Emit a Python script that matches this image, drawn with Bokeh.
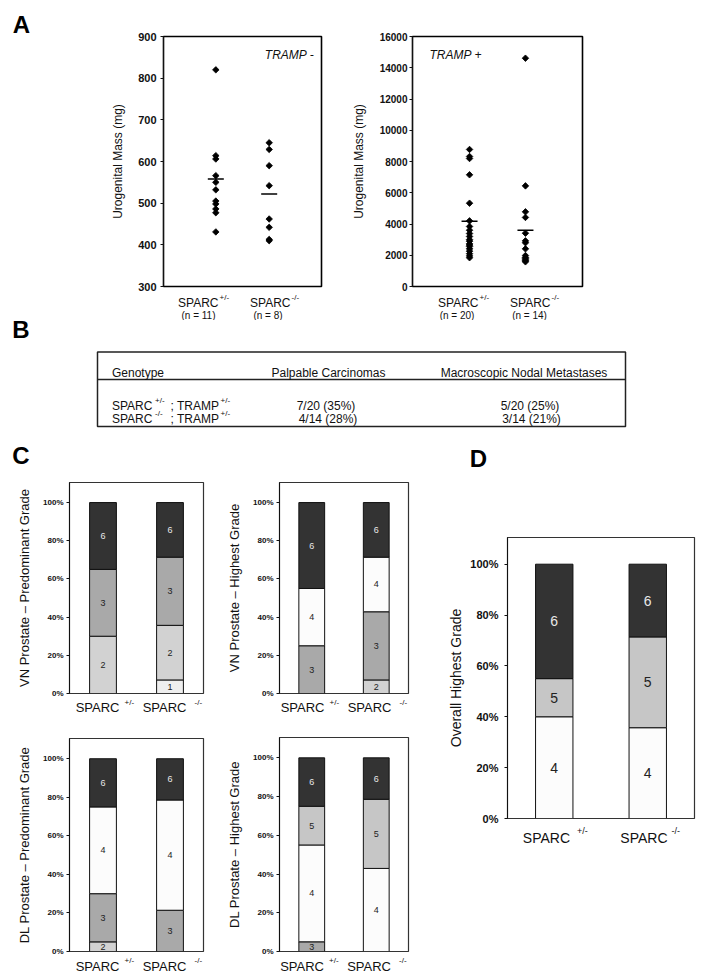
import numpy as np
from bokeh.plotting import figure
from bokeh.models import FactorRange, Range1d, Label, FixedTicker, NumeralTickFormatter, ColumnDataSource
from bokeh.layouts import row, column
from bokeh.core.properties import value
from bokeh.embed import file_html
from bokeh.resources import INLINE

FONT = "Liberation Sans"
INK = "#111111"

# ---------------- Panel A data (urogenital mass, mg) ----------------
GENOTYPES = ["SPARC+/-", "SPARC-/-"]
GENO_SUP = ["+/-", "-/-"]
TRAMP_NEG_HET = [820, 614, 606, 566, 550, 532, 505, 498, 486, 477, 431]
TRAMP_NEG_KO = [645, 629, 590, 542, 462, 442, 413, 410]
TRAMP_NEG_MEAN = [558, 522]
TRAMP_NEG_N = ["(n = 11)", "(n = 8)"]
TRAMP_NEG_TICKS = [300, 400, 500, 600, 700, 800, 900]

TRAMP_POS_HET = [8770, 8320, 8190, 7150, 5330, 4200, 3840, 3600, 3390, 3200, 3000,
                 2900, 2730, 2650, 2560, 2410, 2260, 2100, 1960, 1840]
TRAMP_POS_KO = [14610, 6440, 4780, 4420, 3410, 2920, 2800, 2410, 1980, 1860, 1800,
                1710, 1650, 1580]
TRAMP_POS_MEAN = [4180, 3600]
TRAMP_POS_N = ["(n = 20)", "(n = 14)"]
TRAMP_POS_TICKS = [0, 2000, 4000, 6000, 8000, 10000, 12000, 14000, 16000]

# ---------------- Panel B table ----------------
TABLE_HEADERS = ["Genotype", "Palpable Carcinomas", "Macroscopic Nodal Metastases"]
TABLE_SPARC_SUP = ["+/-", "-/-"]
TABLE_TRAMP_SUP = ["+/-", "+/-"]
TABLE_PALPABLE = ["7/20 (35%)", "4/14 (28%)"]
TABLE_NODAL = ["5/20 (25%)", "3/14 (21%)"]

# ---------------- Panels C / D (grade distributions, %) ----------------
BAR_GROUPS = ["+/-", "-/-"]
VN_PRED_GRADES = [[2, 3, 6], [1, 2, 3, 6]]
VN_PRED_PCT = [[30, 35, 35], [7.1, 28.6, 35.7, 28.6]]
VN_HIGH_GRADES = [[3, 4, 6], [2, 3, 4, 6]]
VN_HIGH_PCT = [[25, 30, 45], [7.1, 35.7, 28.6, 28.6]]
DL_PRED_GRADES = [[2, 3, 4, 6], [3, 4, 6]]
DL_PRED_PCT = [[5, 25, 45, 25], [21.4, 57.2, 21.4]]
DL_HIGH_GRADES = [[3, 4, 5, 6], [4, 5, 6]]
DL_HIGH_PCT = [[5, 50, 20, 25], [42.9, 35.7, 21.4]]
ALL_HIGH_GRADES = [[4, 5, 6], [4, 5, 6]]
ALL_HIGH_PCT = [[40, 15, 45], [35.7, 35.7, 28.6]]
PCT_TICKS = [0, 0.2, 0.4, 0.6, 0.8, 1.0]

GRADE_FILL = {1: "#efefef", 2: "#d2d2d2", 3: "#a9a9a9", 4: "#fcfcfc", 5: "#c6c6c6", 6: "#333333"}
GRADE_TEXT = {1: "#222222", 2: "#222222", 3: "#222222", 4: "#222222", 5: "#222222", 6: "#e8e8e8"}


def base_fig(x_range, y_range, w, h, bl, br, bt, bb):
    p = figure(width=w, height=h, x_range=x_range, y_range=y_range,
               x_axis_location=None, y_axis_location="left",
               min_border_left=bl, min_border_right=br, min_border_top=bt, min_border_bottom=bb,
               toolbar_location=None, output_backend="svg", title=None, frame_align=False)
    p.grid.visible = False
    p.background_fill_color = "white"
    p.border_fill_color = "white"
    return p


def canvas(x0, x1, y0, y1, overlap=0):
    """Transparent drawing area addressed in page pixels (y grows downward).
    overlap pulls it up over the (empty) bottom strip of the item above it."""
    p = figure(width=int(x1 - x0), height=int(y1 - y0),
               x_range=Range1d(x0, x1), y_range=Range1d(y1, y0),
               x_axis_location=None, y_axis_location=None, min_border=0,
               toolbar_location=None, output_backend="svg", title=None,
               outline_line_color=None, frame_align=False)
    p.grid.visible = False
    p.background_fill_alpha = 0
    p.border_fill_alpha = 0
    if overlap:
        p.margin = (-overlap, 0, 0, 0)
    return p


def letter(p, x, y, t):
    p.text(x=[x], y=[y], text=[t], text_align="center", text_baseline="middle",
           text_font=value(FONT), text_font_size="24px", text_font_style="bold", text_color="black")


def txt(p, xs, ys, texts, align, size, style="normal"):
    p.text(x=xs, y=ys, text=texts, text_align=align, text_baseline="alphabetic",
           text_font=value(FONT), text_font_size=size, text_font_style=style, text_color=INK)


def style_yaxis(p, label, tick_fs, label_fs, lab_standoff, tick_standoff):
    ax = p.yaxis[0]
    ax.axis_label = label
    ax.axis_label_text_font = FONT
    ax.axis_label_text_font_size = label_fs
    ax.axis_label_text_font_style = "normal"
    ax.axis_label_text_color = INK
    ax.axis_label_standoff = lab_standoff
    ax.major_label_text_font = FONT
    ax.major_label_text_font_size = tick_fs
    ax.major_label_text_font_style = "bold"
    ax.major_label_text_color = INK
    ax.major_label_standoff = tick_standoff
    ax.major_tick_out = 3
    ax.major_tick_in = 0
    ax.minor_tick_line_color = None
    ax.axis_line_color = INK
    ax.major_tick_line_color = INK


def scatter_panel(w, bl, br, pad, het, ko, means, ticks, tick_fs, lab_standoff, tick_standoff,
                  tramp, tramp_idx, tramp_dx, tramp_align):
    xr = FactorRange(factors=GENOTYPES, range_padding=pad, range_padding_units="absolute")
    yr = Range1d(ticks[0], ticks[-1])
    p = base_fig(xr, yr, w, 294, bl, br, 36, 8)
    p.outline_line_color = "black"
    p.outline_line_width = 1.6
    style_yaxis(p, "Urogenital Mass (mg)", tick_fs, "12px", lab_standoff, tick_standoff)
    p.yaxis[0].ticker = FixedTicker(ticks=ticks)
    for g, vals in zip(GENOTYPES, [het, ko]):
        p.scatter(x=[g] * len(vals), y=vals, marker="square", size=4.6, angle=0.785,
                  fill_color="black", line_color="black", line_width=0.8)
    p.scatter(x=GENOTYPES, y=means, marker="dash", size=16, line_color="black", line_width=1.5)
    p.add_layout(Label(x=tramp_idx + 0.5, y=ticks[-1], x_offset=tramp_dx, y_offset=-18,
                       text=tramp, text_align=tramp_align, text_baseline="alphabetic",
                       text_font=FONT, text_font_size="12px", text_font_style="italic",
                       text_color=INK))
    return p


def bar_panel(w, h, bl, br, bt, bb, grades, pcts, ylabel, tick_fs, label_fs, seg_fs,
              lab_standoff, tick_standoff):
    xr = FactorRange(factors=BAR_GROUPS)
    p = base_fig(xr, Range1d(0, 1.105), w, h, bl, br, bt, bb)
    p.outline_line_color = "#333333"
    p.outline_line_width = 1.2
    style_yaxis(p, ylabel, tick_fs, label_fs, lab_standoff, tick_standoff)
    p.yaxis[0].ticker = FixedTicker(ticks=PCT_TICKS)
    p.yaxis[0].formatter = NumeralTickFormatter(format="0%")
    for gi, g in enumerate(BAR_GROUPS):
        frac = np.array(pcts[gi], dtype=float) / 100.0
        tops = np.cumsum(frac)
        bottoms = tops - frac
        src = ColumnDataSource(dict(
            x=[g] * len(frac), top=tops, bottom=bottoms, mid=(tops + bottoms) / 2,
            fill=[GRADE_FILL[k] for k in grades[gi]],
            tcol=[GRADE_TEXT[k] for k in grades[gi]],
            lab=[str(k) for k in grades[gi]]))
        p.vbar(x="x", top="top", bottom="bottom", width=0.4, fill_color="fill",
               line_color="#111111", line_width=1, source=src)
        p.text(x="x", y="mid", text="lab", text_color="tcol", text_align="center",
               text_baseline="middle", text_font=value(FONT), text_font_size=seg_fs, source=src)
    return p


def sparc_labels(p, centers, sups, main_dx, sup_dx, base_y, sup_y, main_fs, sup_fs):
    txt(p, [c + dx for c, dx in zip(centers, main_dx)], [base_y] * len(centers),
        ["SPARC"] * len(centers), "right", main_fs)
    txt(p, [c + dx for c, dx in zip(centers, sup_dx)], [sup_y] * len(centers), sups, "left", sup_fs)


# ---------------- Row 1: panel A ----------------
fa = canvas(0, 108, 0, 294)
letter(fa, 21, 23.5, "A")

a1 = scatter_panel(237, 52, 24, 0.48, TRAMP_NEG_HET, TRAMP_NEG_KO, TRAMP_NEG_MEAN,
                   TRAMP_NEG_TICKS, "11px", 10, 4, "TRAMP -", 1, 45, "right")
a2 = scatter_panel(255, 67, 18, 0.52, TRAMP_POS_HET, TRAMP_POS_KO, TRAMP_POS_MEAN,
                   TRAMP_POS_TICKS, "10px", 11, 2, "TRAMP +", 0, -40, "left")
row1 = row(fa, a1, a2)

# ---------------- Row 2: A category labels + panel B ----------------
fbl = canvas(0, 70, 288, 440)
letter(fbl, 20.5, 328.5, "B")

la = canvas(70, 706, 288, 320)
a_centers = [213, 267, 470, 526]
sparc_labels(la, a_centers, GENO_SUP * 2, [5, 23, 8, 24], [6, 24, 9, 25], 302, 296.5, "12px", "8px")
txt(la, [c + dx for c, dx in zip(a_centers, [-15, 0.5, -13.5, 3])], [315] * 4,
    TRAMP_NEG_N + TRAMP_POS_N, "center", "10px")

fb = canvas(70, 706, 320, 440)
fb.quad(left=[97], right=[625], top=[351.5], bottom=[426], fill_color=None,
        line_color="#222222", line_width=1.5)
fb.segment(x0=[97], x1=[625], y0=[379], y1=[379], line_color="#222222", line_width=1.5)
txt(fb, [111.5], [372], [TABLE_HEADERS[0]], "left", "12px")
txt(fb, [328, 523.5], [372, 372], TABLE_HEADERS[1:], "center", "12px")
row_y = [405, 418]
txt(fb, [111.5] * 2, row_y, ["SPARC"] * 2, "left", "12px")
txt(fb, [154.5] * 2, [yy - 5 for yy in row_y], TABLE_SPARC_SUP, "left", "8px")
txt(fb, [170] * 2, row_y, ["; TRAMP"] * 2, "left", "12px")
txt(fb, [220] * 2, [yy - 5 for yy in row_y], TABLE_TRAMP_SUP, "left", "8px")
txt(fb, [325.5, 327.5], row_y, TABLE_PALPABLE, "center", "12px")
txt(fb, [529.5, 531], row_y, TABLE_NODAL, "center", "12px")
row2 = row(fbl, column(la, fb))
row2.margin = (-6, 0, 0, 0)

# ---------------- Row 3: panels C and D ----------------
fc = canvas(0, 428, 440, 475)
letter(fc, 20.5, 455, "C")

c1 = bar_panel(224, 224, 69, 21, 7, 6, VN_PRED_GRADES, VN_PRED_PCT,
               "VN Prostate \u2013 Predominant Grade", "8px", "13px", "9px", 8, 3)
c2 = bar_panel(204, 224, 51, 20, 7, 6, VN_HIGH_GRADES, VN_HIGH_PCT,
               "VN Prostate \u2013 Highest Grade", "8px", "13px", "9px", 8, 3)
lc1a = canvas(0, 224, 694, 720, overlap=5)
sparc_labels(lc1a, [103, 170], BAR_GROUPS, [16, 16], [21, 24], 707, 701.5, "13px", "8px")
lc1b = canvas(224, 428, 694, 720, overlap=5)
sparc_labels(lc1b, [308, 375], BAR_GROUPS, [16, 16], [21, 24], 707, 701.5, "13px", "8px")

c3 = bar_panel(224, 237, 69, 21, 18, 6, DL_PRED_GRADES, DL_PRED_PCT,
               "DL Prostate \u2013 Predominant Grade", "8px", "13px", "9px", 8, 3)
c4 = bar_panel(204, 237, 50, 20, 17, 6, DL_HIGH_GRADES, DL_HIGH_PCT,
               "DL Prostate \u2013 Highest Grade", "8px", "13px", "9px", 8, 3)
lc2a = canvas(0, 224, 952, 975, overlap=5)
sparc_labels(lc2a, [103, 170], BAR_GROUPS, [16, 16], [21, 24], 965.5, 960, "13px", "8px")
lc2b = canvas(224, 428, 952, 975, overlap=5)
sparc_labels(lc2b, [307.5, 374.5], BAR_GROUPS, [16, 16], [21, 24], 965.5, 960, "13px", "8px")

left3 = column(fc,
               row(column(c1, lc1a), column(c2, lc1b)),
               row(column(c3, lc2a), column(c4, lc2b)))

fd = canvas(428, 706, 440, 485)
letter(fd, 478, 458, "D")
d = bar_panel(278, 341, 79, 12, 52, 8, ALL_HIGH_GRADES, ALL_HIGH_PCT,
              "Overall Highest Grade", "11px", "14px", "14px", 3, 6)
ld = canvas(428, 706, 820, 975, overlap=6)
sparc_labels(ld, [553.5, 647], BAR_GROUPS, [16, 20], [23, 24], 837, 830, "14px", "9px")
right3 = column(fd, d, ld)

layout = column(row1, row2, row(left3, right3))

open("out.html", "w").write(file_html(layout, INLINE))
